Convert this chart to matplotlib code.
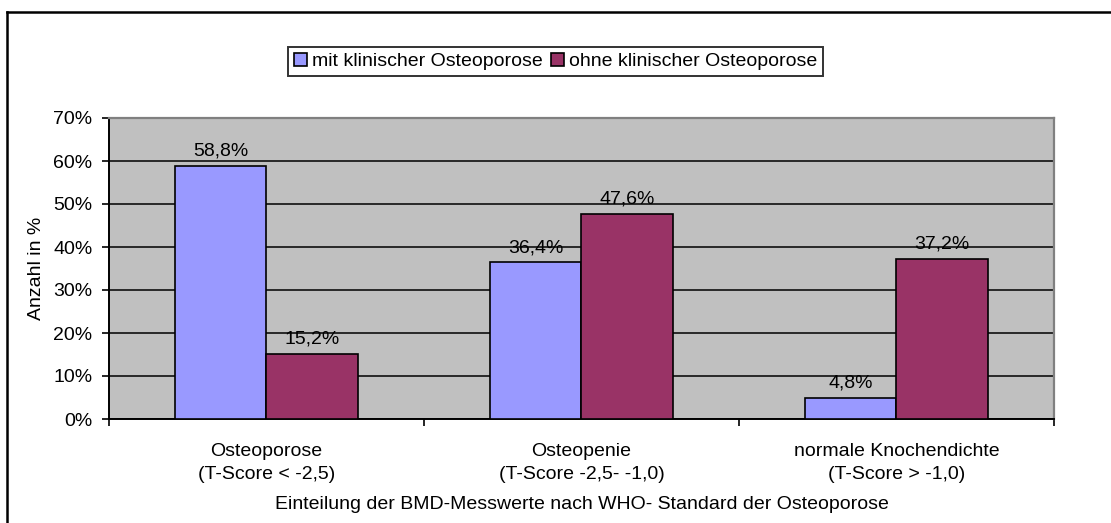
import matplotlib
matplotlib.use("Agg")
import matplotlib.pyplot as plt
from matplotlib.patches import Patch
from matplotlib.lines import Line2D
import numpy as np

plt.rcParams['font.family'] = ['Liberation Sans', 'DejaVu Sans']

# data
categories = ["Osteoporose\n(T-Score < -2,5)",
              "Osteopenie\n(T-Score -2,5- -1,0)",
              "normale Knochendichte\n(T-Score > -1,0)"]
series_names = ["mit klinischer Osteoporose", "ohne klinischer Osteoporose"]
mit = [58.8, 36.4, 4.8]
ohne = [15.2, 47.6, 37.2]
colors = ["#9999FF", "#993366"]

fs = 14

fig = plt.figure(figsize=(11.11, 5.23), dpi=100)
ax = fig.add_axes([109/1111, 1 - 419/523, 945/1111, 301/523])
ax.set_facecolor("#C0C0C0")

x = np.arange(len(categories))
w = 0.289
for vals, off, c in [(mit, -w/2, colors[0]), (ohne, w/2, colors[1])]:
    bars = ax.bar(x + off, vals, width=w, color=c, edgecolor="black",
                  linewidth=1.2, zorder=3)
    for b, v in zip(bars, vals):
        ax.text(b.get_x() + b.get_width()/2, v + 1.5,
                ("%.1f%%" % v).replace(".", ","),
                ha="center", va="bottom", fontsize=fs, zorder=4)

ax.set_xlim(-0.5, 2.5)
ax.set_ylim(0, 70)
ax.set_yticks(np.arange(0, 71, 10))
ax.set_yticklabels(["%d%%" % v for v in range(0, 71, 10)], fontsize=fs)
ax.yaxis.grid(True, color="black", linewidth=1.1, zorder=1)
ax.set_axisbelow(True)

# ticks at category boundaries, labels at centres
ax.set_xticks([-0.5, 0.5, 1.5, 2.5])
ax.set_xticklabels([])
ax.set_xticks(x, minor=True)
ax.set_xticklabels(categories, minor=True, fontsize=fs, linespacing=1.5)
ax.tick_params(axis="x", which="minor", length=0, pad=17)
ax.tick_params(axis="both", which="major", direction="out", length=5,
               width=1.2, color="black")
ax.tick_params(axis="y", pad=7)

for s in ["left", "bottom"]:
    ax.spines[s].set_color("black")
    ax.spines[s].set_linewidth(1.4)
for s in ["top", "right"]:
    ax.spines[s].set_color("#808080")
    ax.spines[s].set_linewidth(1.6)

ax.set_ylabel("Anzahl in %", fontsize=fs, labelpad=6)
ax.set_xlabel("Einteilung der BMD-Messwerte nach WHO- Standard der Osteoporose",
              fontsize=fs, labelpad=9)

handles = [Patch(facecolor=c, edgecolor="black", linewidth=1.2) for c in colors]
leg = fig.legend(handles, series_names, loc="center",
                 bbox_to_anchor=(555.5/1111, 1 - 61.5/523), ncol=2,
                 fontsize=fs, frameon=True, fancybox=False,
                 handlelength=0.7, handleheight=0.7, handletextpad=0.25,
                 columnspacing=0.4, borderpad=0.3, borderaxespad=0)
leg.get_frame().set_edgecolor("black")
leg.get_frame().set_linewidth(1.4)

# outer chart border (top and left edges only visible)
fig.add_artist(Line2D([7/1111, 1], [1 - 12/523, 1 - 12/523],
                      transform=fig.transFigure, color="black", linewidth=1.8))
fig.add_artist(Line2D([7/1111, 7/1111], [0, 1 - 12/523],
                      transform=fig.transFigure, color="black", linewidth=1.8))

fig.savefig("out.png", dpi=100)
